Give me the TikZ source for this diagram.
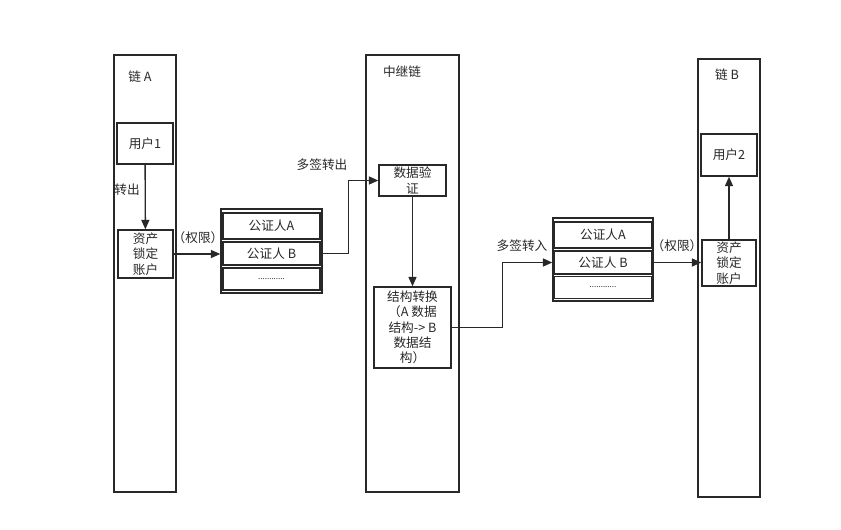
\documentclass[tikz,border=0pt]{standalone}
\usepackage{fontspec}
\newfontfamily\cjk{Noto Sans CJK SC}
\usepackage{tikz}
\usetikzlibrary{positioning, arrows.meta, calc}
\definecolor{linegray}{RGB}{40, 40, 40}

\tikzset{
  every node/.style={font=\cjk\fontsize{9.5}{11.5}\selectfont, text=linegray},
  chainbox/.style={draw=linegray, line width=1.2pt, minimum width=46.5pt, minimum height=327.75pt, inner sep=0pt},
  box/.style={draw=linegray, line width=1.1pt, inner sep=0pt, align=center},
  row/.style={draw=linegray, line width=1.1pt, minimum width=72.75pt, inner sep=0pt},
  flow/.style={draw=linegray, line width=1pt, -{Triangle[length=7pt,width=6pt]}}
}

\begin{document}
\begin{tikzpicture}[x=0.75pt, y=-0.75pt]
  \useasboundingbox (0,0) rectangle (841,529);

  % chains
  \node[chainbox] (chainA) at (145,273.5) {};
  \node[chainbox, minimum width=69.75pt] (relay) at (412.5,273.5) {};
  \node[chainbox, minimum height=328.5pt] (chainB) at (729,278) {};
  \node (titleA) at (140,77) {链 A};
  \node (titleR) at (402,72) {中继链};
  \node (titleB) at (727,75) {链 B};

  % chain A
  \node[box, minimum width=42pt, minimum height=30.75pt] (userA) at (145,143.5) {用户1};
  \node[box, minimum width=41.25pt, minimum height=36pt] (lockA) at (145.5,254) {资产\\锁定\\账户};

  % notaries, left
  \node[draw=linegray, line width=1.1pt, minimum width=75.75pt, minimum height=63pt] (groupA) at (271.5,251) {};
  \node[row, minimum height=19.5pt] (rowAA) at (271.5,226) {公证人A};
  \node[row, minimum height=17.25pt] (rowAB) at (271.5,253.5) {公证人 B};
  \node[row, minimum height=16.5pt, font=\cjk\fontsize{6}{7}\selectfont] (rowAC) at (271.5,279) {............};

  % relay chain
  \node[box, minimum width=50.25pt, minimum height=23.25pt, font=\cjk\fontsize{9.5}{12}\selectfont] (verify) at (412.5,180.5) {数据验\\证};
  \node[box, minimum width=57.75pt, minimum height=60.75pt] (convert) at (412.5,327.5) {结构转换\\（A 数据\\结构-> B\\数据结\\构）};

  % notaries, right
  \node[draw=linegray, line width=1.1pt, minimum width=75pt, minimum height=62.25pt] (groupB) at (603,259.5) {};
  \node[row, minimum height=19.5pt] (rowBA) at (603,235) {公证人A};
  \node[row, minimum height=17.25pt] (rowBB) at (603,262.5) {公证人 B};
  \node[row, minimum height=16.5pt, font=\cjk\fontsize{6}{7}\selectfont] (rowBC) at (603,287.5) {............};

  % chain B
  \node[box, minimum width=42pt, minimum height=31.5pt] (userB) at (729,155) {用户2};
  \node[box, minimum width=40.5pt, minimum height=34.5pt] (lockB) at (729,263) {资产\\锁定\\账户};

  % flows
  \draw[flow] (userA) -- (lockA);
  \node (outA) at (127,190) {转出};
  \draw[flow] (lockA.east) -- (lockA.east -| groupA.west);
  \node (permA) at (198,238) {（权限）};
  \draw[flow] (rowAB.east) -- ++(28,0) |- (verify.west);
  \node (msOut) at (322,165) {多签转出};
  \draw[flow] (verify) -- (convert);
  \draw[flow] (convert.east) -- ++(51,0) |- (rowBB.west -| groupB.west);
  \node (msIn) at (522,246) {多签转入};
  \draw[flow] (rowBB.east -| groupB.east) -- (rowBB.east -| lockB.west);
  \node (permB) at (677,246) {（权限）};
  \draw[flow] (lockB) -- (userB);
\end{tikzpicture}
\end{document}
